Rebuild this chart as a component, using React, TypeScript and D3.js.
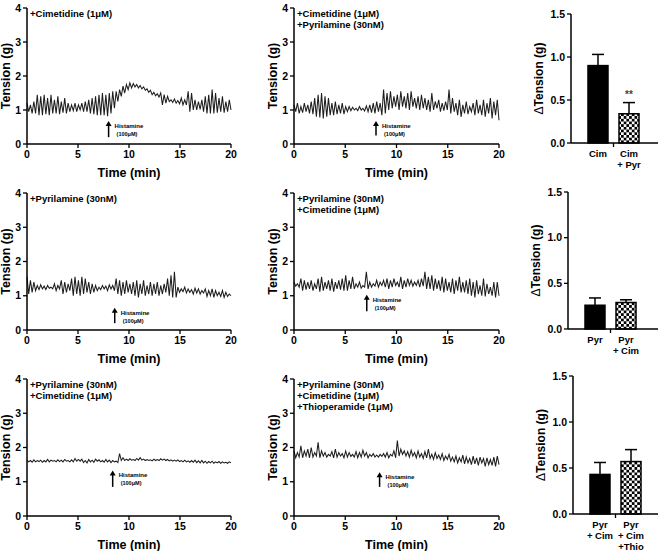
import * as d3 from "d3";

const FONT = "'Liberation Sans', Arial, sans-serif";

// traces: pairs of (peak, trough), evenly spaced over 0-20 min
const cimTrace = [
  1.2, 0.95, 1.15, 0.9, 1.25, 0.9,
  1.45, 0.85, 1.4, 0.85, 1.45, 0.88, 1.35, 0.85, 1.45, 0.9,
  1.3, 0.9, 1.4, 0.88, 1.25, 0.92, 1.35, 0.9,
  1.2, 0.95, 1.15, 0.98, 1.2, 0.95, 1.15, 1.0, 1.2, 0.95, 1.25, 0.95,
  1.3, 0.9, 1.35, 0.88, 1.4, 0.85, 1.45, 0.85, 1.5, 0.85, 1.45, 0.82, 1.5, 0.9, 1.55, 1.05,
  1.55, 1.25, 1.6, 1.4, 1.7, 1.5, 1.75, 1.6, 1.8, 1.65, 1.78, 1.68,
  1.75, 1.65, 1.72, 1.62, 1.68, 1.58, 1.62, 1.52, 1.58, 1.45, 1.52, 1.42, 1.48, 1.38,
  1.5, 1.15, 1.45, 1.2, 1.4, 1.25,
  1.3, 1.22, 1.32, 1.2, 1.28, 1.18, 1.35, 1.15, 1.3, 1.15,
  1.55, 0.95, 1.5, 1.0,
  1.3, 1.0, 1.25, 1.02, 1.3, 0.95,
  1.4, 0.9, 1.45, 0.9, 1.6, 0.9, 1.5, 0.92, 1.35, 0.95, 1.4, 0.92, 1.25, 0.95, 1.3, 1.0,
];

const cimPyrTrace = [
  1.15, 0.95, 1.2, 0.9, 1.1, 0.92, 1.2, 0.95, 1.15, 0.9, 1.25, 0.88,
  1.35, 0.8, 1.45, 0.78, 1.5, 0.75, 1.4, 0.8, 1.35, 0.85,
  1.2, 0.85, 1.25, 0.88, 1.15, 0.9, 1.2, 0.88, 1.1, 0.95,
  1.1, 0.98, 1.08, 1.0, 1.05, 0.98, 1.1, 1.0, 1.05, 0.97, 1.12, 0.95, 1.15, 0.92,
  1.2, 0.9, 1.25, 0.95, 1.2, 0.85,
  1.6, 0.9, 1.5, 1.0, 1.55, 1.05, 1.4, 1.1, 1.45, 1.0, 1.55, 1.1, 1.4, 1.05, 1.5, 1.0, 1.55, 1.1, 1.35, 1.05,
  1.4, 1.0, 1.45, 1.05, 1.35, 1.0, 1.3, 0.95, 1.5, 1.0, 1.25, 1.05, 1.3, 0.95, 1.2, 0.98, 1.25, 1.0,
  1.6, 0.9, 1.35, 0.95,
  1.2, 0.85, 1.3, 0.8, 1.15, 0.9, 1.25, 0.88, 1.1, 0.95,
  1.2, 0.85, 1.3, 0.9, 1.15, 0.85, 1.3, 0.8, 1.2, 0.9, 1.35, 0.75, 1.25, 0.85, 1.3, 0.7,
];

const pyrTrace = [
  1.55, 1.05, 1.45, 1.1, 1.4, 1.15,
  1.3, 1.18, 1.32, 1.2, 1.28, 1.18, 1.3, 1.22, 1.25, 1.2, 1.35, 1.15, 1.3, 1.2,
  1.45, 1.05, 1.4, 1.1, 1.35, 1.15,
  1.5, 1.0, 1.55, 1.05, 1.45, 1.0, 1.55, 1.05, 1.5, 1.1, 1.4, 1.05, 1.35, 1.1,
  1.3, 1.15, 1.25, 1.18, 1.3, 1.2, 1.28, 1.15, 1.32, 1.2, 1.3, 1.15,
  1.5, 1.05, 1.45, 1.0, 1.4, 1.05, 1.45, 1.1, 1.35, 1.05,
  1.4, 1.0, 1.45, 0.95, 1.35, 1.05, 1.45, 1.0, 1.3, 1.05, 1.4, 1.0, 1.35, 1.05,
  1.4, 1.0, 1.3, 1.05, 1.35, 1.1, 1.5, 1.0, 1.6, 0.95,
  1.7, 0.95,
  1.25, 1.1, 1.2, 1.12, 1.25, 1.08, 1.2, 1.1, 1.18, 1.05, 1.22, 1.08, 1.2, 1.05, 1.15, 1.08,
  1.2, 0.98, 1.15, 1.0, 1.2, 0.95, 1.15, 1.0, 1.1, 0.98, 1.15, 0.95, 1.1, 0.98, 1.05, 1.0,
];

const pyrCimTrace = [
  1.4, 1.28, 1.35, 1.25,
  1.5, 1.15, 1.45, 1.18, 1.4, 1.2, 1.45, 1.15, 1.35, 1.2, 1.5, 1.12, 1.55, 1.15, 1.4, 1.2, 1.45, 1.15, 1.5, 1.12, 1.4, 1.2, 1.45, 1.18, 1.5, 1.15,
  1.6, 1.15, 1.45, 1.2, 1.55, 1.2, 1.35, 1.25, 1.4, 1.22, 1.3, 1.25,
  1.7, 1.2,
  1.4, 1.25, 1.35, 1.28, 1.45, 1.25, 1.4, 1.3, 1.45, 1.25,
  1.5, 1.2, 1.45, 1.25, 1.5, 1.3, 1.4, 1.25, 1.55, 1.2, 1.45, 1.25, 1.5, 1.3, 1.45, 1.28, 1.4, 1.3, 1.45, 1.25,
  1.5, 1.28, 1.7, 1.2,
  1.55, 1.2, 1.6, 1.15, 1.5, 1.2, 1.45, 1.15, 1.55, 1.1, 1.5, 1.15, 1.4, 1.1, 1.5, 1.05, 1.45, 1.15, 1.55, 1.1, 1.4, 1.1, 1.45, 1.05,
  1.5, 1.0, 1.4, 0.95, 1.45, 1.05, 1.3, 1.0, 1.5, 0.98, 1.35, 1.05, 1.25, 1.0, 1.4, 0.95, 1.4, 1.0,
];

const pyrCim2Trace = [
  1.63, 1.58, 1.62, 1.57, 1.64, 1.58, 1.62, 1.59, 1.63, 1.57, 1.62, 1.58, 1.65, 1.58, 1.63, 1.6, 1.62, 1.58,
  1.64, 1.59, 1.63, 1.58, 1.65, 1.6, 1.62, 1.58, 1.64, 1.58, 1.68, 1.6, 1.65, 1.6, 1.66, 1.56, 1.62, 1.55,
  1.65, 1.58, 1.63, 1.57, 1.66, 1.6, 1.64, 1.58, 1.62, 1.57, 1.65, 1.58, 1.63, 1.56, 1.62, 1.58, 1.6, 1.56,
  1.82, 1.62,
  1.7, 1.62, 1.66, 1.62, 1.67, 1.63, 1.65, 1.62, 1.68, 1.63, 1.7, 1.63, 1.66, 1.62, 1.65, 1.62, 1.64, 1.61,
  1.66, 1.62, 1.65, 1.62, 1.67, 1.63, 1.66, 1.62,
  1.65, 1.61, 1.64, 1.6, 1.63, 1.6, 1.64, 1.59, 1.62, 1.58, 1.63, 1.58, 1.61, 1.57, 1.62, 1.57, 1.63, 1.56,
  1.61, 1.55, 1.62, 1.55, 1.6, 1.54, 1.59, 1.55, 1.6, 1.54, 1.58, 1.55, 1.59, 1.54, 1.58, 1.55, 1.57, 1.54, 1.58, 1.55,
];

const thioTrace = [
  1.9, 1.7, 1.85, 1.72, 2.05, 1.7, 1.9, 1.75, 1.95, 1.7, 2.0, 1.72, 1.85, 1.75,
  2.15, 1.7,
  1.9, 1.75, 1.85, 1.72, 1.8, 1.75, 1.88, 1.7, 1.95, 1.72, 1.85, 1.75, 1.82, 1.7, 1.9, 1.72, 1.85, 1.74, 1.8, 1.72, 1.88, 1.7,
  1.85, 1.72, 1.92, 1.75, 1.85, 1.7, 1.8, 1.74, 1.82, 1.72, 1.78, 1.72, 1.8, 1.74, 1.82, 1.72, 1.85, 1.7, 1.8, 1.75, 1.9, 1.7,
  2.2, 1.75,
  1.95, 1.8, 1.9, 1.75, 1.88, 1.72, 1.92, 1.75, 1.85, 1.7, 1.9, 1.72, 1.82, 1.68, 1.88, 1.7, 1.95, 1.68, 1.8, 1.65, 1.85, 1.68,
  1.78, 1.65, 1.82, 1.62, 1.75, 1.65,
  1.8, 1.6, 1.72, 1.58, 1.75, 1.55, 1.7, 1.58, 1.78, 1.52, 1.72, 1.55, 1.68, 1.5, 1.75, 1.52, 1.7, 1.48, 1.72, 1.55,
  1.68, 1.45, 1.7, 1.5, 1.65, 1.48, 1.72, 1.45, 1.75, 1.5,
];

const traceLabels = [
  ["+Cimetidine (1\u03bcM)"],
  ["+Cimetidine (1\u03bcM)", "+Pyrilamine (30nM)"],
  ["+Pyrilamine (30nM)"],
  ["+Pyrilamine (30nM)", "+Cimetidine (1\u03bcM)"],
  ["+Pyrilamine (30nM)", "+Cimetidine (1\u03bcM)"],
  ["+Pyrilamine (30nM)", "+Cimetidine (1\u03bcM)", "+Thioperamide (1\u03bcM)"],
];
// histamine arrow: time (min), arrow bottom, arrow top (g)
const arrowTimes = [8.0, 8.0, 8.6, 7.1, 8.4, 8.35];
const arrowBottom = [0.2, 0.25, 0.2, 0.55, 0.85, 0.85];
const arrowTop = [0.65, 0.65, 0.62, 1.0, 1.3, 1.25];

const timeTicks = [0, 5, 10, 15, 20];
const tensionTicks = [0, 1, 2, 3, 4];
const deltaTicks = [0, 0.5, 1.0, 1.5];

const barCats = [["Cim", "Cim+Pyr"], ["Pyr", "Pyr+Cim"], ["Pyr+Cim", "Pyr+Cim+Thio"]];
const barLabels = [
  [["Cim"], ["Cim", "+ Pyr"]],
  [["Pyr"], ["Pyr", "+ Cim"]],
  [["Pyr", "+ Cim"], ["Pyr", "+ Cim", "+Thio"]],
];
const barMeans = [[0.9, 0.34], [0.26, 0.29], [0.43, 0.57]];
const barErrs = [[0.13, 0.13], [0.08, 0.03], [0.13, 0.13]];
const barStars = [["", "**"], ["", ""], ["", ""]];

const traces = [cimTrace, cimPyrTrace, pyrTrace, pyrCimTrace, pyrCim2Trace, thioTrace];

// layout
const rows = [
  { top: 8, bottom: 144, barTop: 14, barBottom: 143, barX: 571 },
  { top: 193, bottom: 330, barTop: 192, barBottom: 329, barX: 568 },
  { top: 379, bottom: 516, barTop: 376, barBottom: 514, barX: 573 },
];
const cols = [
  { x0: 27, x1: 231 },
  { x0: 294, x1: 499 },
];

function TracePanel({ idx, row, col }: any) {
  const r = rows[row];
  const c = cols[col];
  const x = d3.scaleLinear().domain([0, 20]).range([c.x0, c.x1]);
  const y = d3.scaleLinear().domain([0, 4]).range([r.bottom, r.top]);
  const vals = traces[idx];
  const pts: [number, number][] = vals.map((v, i) => [(i * 20) / (vals.length - 1), v]);
  const line = d3.line<[number, number]>().x((d) => x(d[0])).y((d) => y(d[1]));
  const ax = x(arrowTimes[idx]);
  const ab = y(arrowBottom[idx]);
  const at = y(arrowTop[idx]);
  const midY = (r.top + r.bottom) / 2;
  return (
    <g fontFamily={FONT} fontWeight="bold">
      <path d={line(pts) || ""} fill="none" stroke="#1e1e1e" strokeWidth={1.05} />
      {/* axes */}
      <line x1={c.x0} x2={c.x0} y1={r.top} y2={r.bottom} stroke="#000" strokeWidth={1.5} />
      <line x1={c.x0} x2={c.x1} y1={r.bottom} y2={r.bottom} stroke="#000" strokeWidth={1.5} />
      {tensionTicks.map((t) => (
        <g key={"y" + t}>
          <line x1={c.x0 - 4} x2={c.x0} y1={y(t)} y2={y(t)} stroke="#000" strokeWidth={1.3} />
          <text x={c.x0 - 6} y={y(t)} dy="0.35em" textAnchor="end" fontSize={10.5}>{t}</text>
        </g>
      ))}
      {timeTicks.map((t) => (
        <g key={"x" + t}>
          <line x1={x(t)} x2={x(t)} y1={r.bottom} y2={r.bottom + 4} stroke="#000" strokeWidth={1.3} />
          <text x={x(t)} y={r.bottom + 14} textAnchor="middle" fontSize={10.5}>{t}</text>
        </g>
      ))}
      <text x={(c.x0 + c.x1) / 2} y={r.bottom + 33} textAnchor="middle" fontSize={12.5}>Time (min)</text>
      <text transform={`translate(${c.x0 - 17},${midY}) rotate(-90)`} textAnchor="middle" fontSize={12.5}>Tension (g)</text>
      {traceLabels[idx].map((s, i) => (
        <text key={s + i} x={c.x0 + 3} y={r.top + 9 + i * 11} fontSize={9.5}>{s}</text>
      ))}
      {/* histamine arrow */}
      <line x1={ax} x2={ax} y1={ab} y2={at + 3} stroke="#000" strokeWidth={1.5} />
      <path d={`M${ax - 3},${at + 4} L${ax},${at - 1} L${ax + 3},${at + 4} Z`} fill="#000" />
      <text x={ax + 6} y={at + 6} fontSize={6}>Histamine</text>
      <text x={ax + 8} y={at + 14} fontSize={5.5}>(100{"\u03bc"}M)</text>
    </g>
  );
}

function BarPanel({ row }: any) {
  const r = rows[row];
  const x0 = r.barX;
  const y = d3.scaleLinear().domain([0, 1.5]).range([r.barBottom, r.barTop]);
  const xp = d3.scalePoint<string>().domain(barCats[row]).range([x0, x0 + 85]).padding(0.87);
  const bw = 20;
  const midX = ((xp(barCats[row][0]) as number) + (xp(barCats[row][1]) as number)) / 2;
  return (
    <g fontFamily={FONT} fontWeight="bold">
      {barCats[row].map((cat, i) => {
        const cx = xp(cat) as number;
        const m = barMeans[row][i];
        const e = barErrs[row][i];
        return (
          <g key={cat}>
            <line x1={cx} x2={cx} y1={y(m)} y2={y(m + e)} stroke="#000" strokeWidth={1.5} />
            <line x1={cx - 6} x2={cx + 6} y1={y(m + e)} y2={y(m + e)} stroke="#000" strokeWidth={1.5} />
            <rect x={cx - bw / 2} y={y(m)} width={bw} height={r.barBottom - y(m)}
              fill={i === 0 ? "#000" : "url(#checker)"} stroke="#000" strokeWidth={1.5} />
            {barStars[row][i] && (
              <text x={cx} y={y(m + e) - 5} textAnchor="middle" fontSize={10} fill="#444">{barStars[row][i]}</text>
            )}
            {barLabels[row][i].map((s, j) => (
              <text key={s + j} x={cx} y={r.barBottom + 14 + j * 11} textAnchor="middle" fontSize={9.5}>{s}</text>
            ))}
          </g>
        );
      })}
      <line x1={x0} x2={x0} y1={r.barTop} y2={r.barBottom} stroke="#000" strokeWidth={1.5} />
      <line x1={x0} x2={658} y1={r.barBottom} y2={r.barBottom} stroke="#000" strokeWidth={1.5} />
      <line x1={midX} x2={midX} y1={r.barBottom} y2={r.barBottom + 4} stroke="#000" strokeWidth={1.3} />
      {deltaTicks.map((t) => (
        <g key={t}>
          <line x1={x0 - 4} x2={x0} y1={y(t)} y2={y(t)} stroke="#000" strokeWidth={1.3} />
          <text x={x0 - 6} y={y(t)} dy="0.35em" textAnchor="end" fontSize={10.5}>{t.toFixed(1)}</text>
        </g>
      ))}
      <text transform={`translate(${x0 - 28},${(r.barTop + r.barBottom) / 2}) rotate(-90)`}
        textAnchor="middle" fontSize={12}>
        <tspan fontWeight="normal">{"\u0394"}</tspan>Tension (g)
      </text>
    </g>
  );
}

export default function App() {
  return (
    <svg width={658} height={551} style={{ position: "absolute", left: 0, top: 0, background: "#fff" }}>
      <defs>
        <pattern id="checker" width={5.4} height={5.4} patternUnits="userSpaceOnUse">
          <rect width={5.4} height={5.4} fill="#fff" />
          <rect width={2.7} height={2.7} fill="#000" />
          <rect x={2.7} y={2.7} width={2.7} height={2.7} fill="#000" />
        </pattern>
      </defs>
      {[0, 1, 2].map((row) => (
        <g key={row}>
          <TracePanel idx={row * 2} row={row} col={0} />
          <TracePanel idx={row * 2 + 1} row={row} col={1} />
          <BarPanel row={row} />
        </g>
      ))}
    </svg>
  );
}
